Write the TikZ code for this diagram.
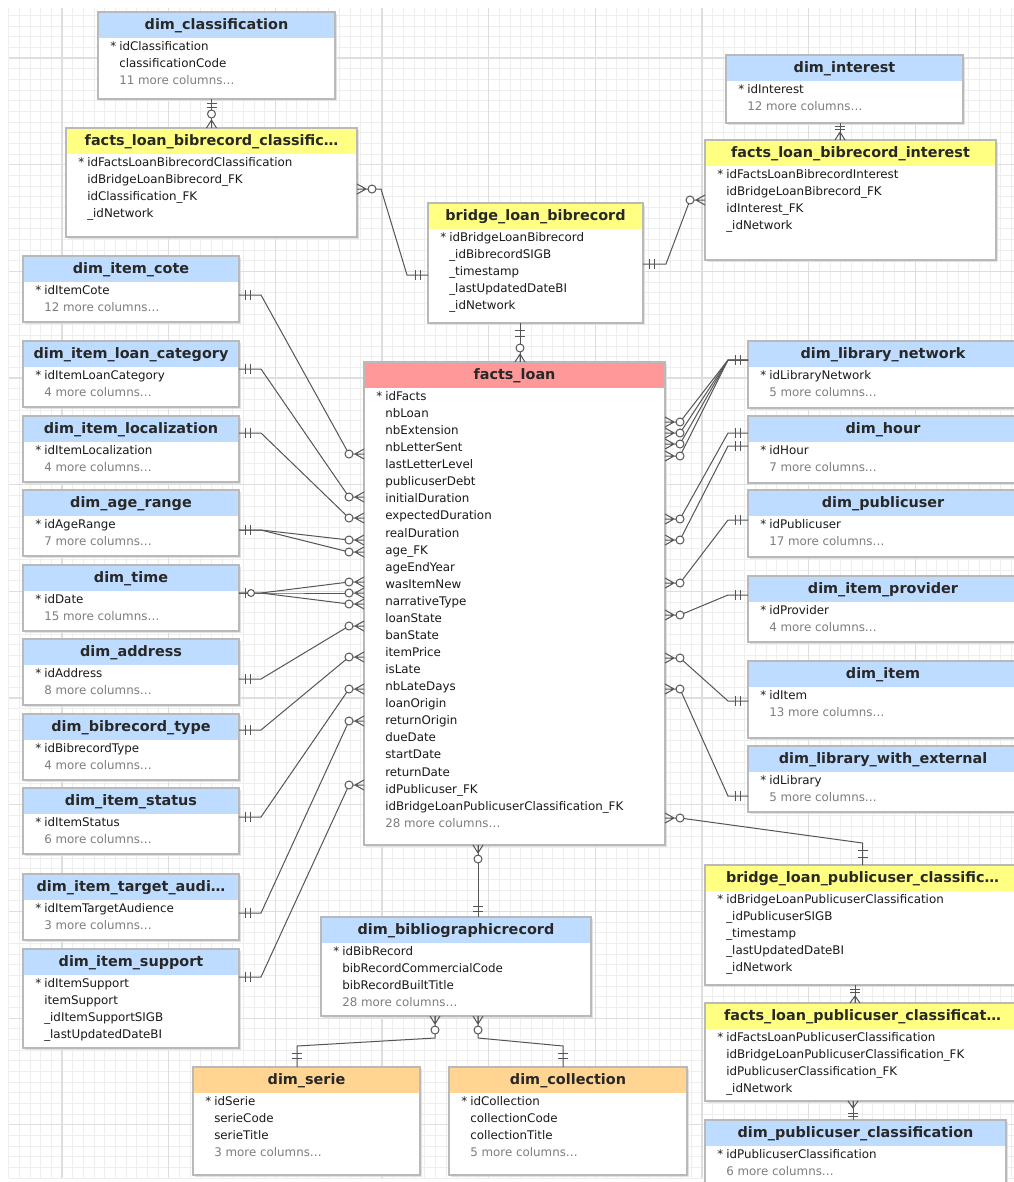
\documentclass[tikz,border=0pt]{standalone}
\usepackage{fontspec}
\setmainfont{DejaVu Sans}
\usetikzlibrary{calc}
\definecolor{hblue}{RGB}{190,220,255}
\definecolor{hyellow}{RGB}{255,255,130}
\definecolor{hpink}{RGB}{255,153,153}
\definecolor{horange}{RGB}{255,213,145}
\definecolor{gmin}{RGB}{238,238,238}
\definecolor{gmaj}{RGB}{222,222,222}
\definecolor{bord}{RGB}{185,185,185}
\definecolor{shadowc}{RGB}{225,225,225}
\definecolor{lnk}{RGB}{85,85,85}
\definecolor{txt}{RGB}{25,25,25}
\definecolor{more}{RGB}{125,125,125}
\definecolor{htxt}{RGB}{40,40,40}
\newcommand\mc[1]{\textcolor{more}{#1}}
\tikzset{
 tbox/.style={fill=white, inner sep=0pt, outer sep=0pt, anchor=north west, rectangle},
 htext/.style={anchor=base, inner sep=0pt, font=\fontsize{10.8pt}{12pt}\selectfont\bfseries, text=htxt},
 rtext/.style={anchor=base west, inner sep=0pt, font=\fontsize{8.9pt}{10pt}\selectfont, text=txt},
 conn/.style={draw=lnk, line width=0.75pt},
}
\newcommand\tbl[8]{%
 \fill[shadowc] (#2+2,#3+2) rectangle (#2+#4+2,#3+#5+2);
 \node[tbox, minimum width=#4*0.75pt, minimum height=#5*0.75pt] (#1) at (#2,#3) {};
 \fill[#6] (#1.north west) rectangle ($(#1.north east)+(0,26)$);
 \draw[bord, line width=0.8pt] (#1.north west) rectangle (#1.south east);
 \node[htext] (#1-title) at ($(#1.north)+(0,17.5)$) {#7};
 \node[rtext] (#1-key) at ($(#1.north west)+(12,38.5)$) {*};
 \foreach[count=\ri] \rowtxt in {#8}{%
   \node[rtext] (#1-r\ri) at ($(#1.north west)+(21,{38.5+(\ri-1)*17.07})$) {\rowtxt};}%
}
% one-end bars
\newcommand\barsH[3]{\draw[conn] ($(#1)+(#2,-5)$) -- ($(#1)+(#2,5)$) ($(#1)+(#3,-5)$) -- ($(#1)+(#3,5)$);}
\newcommand\barsV[3]{\draw[conn] ($(#1)+(-5,#2)$) -- ($(#1)+(5,#2)$) ($(#1)+(-5,#3)$) -- ($(#1)+(5,#3)$);}
% many-ends (crow's foot + circle)
\newcommand\crowW[1]{%
 \draw[conn] ($(#1)+(-11,0)$) -- (#1) ($(#1)+(-9,0)$) -- ($(#1)+(0,-5)$) ($(#1)+(-9,0)$) -- ($(#1)+(0,5)$);
 \draw[conn,fill=white] ($(#1)+(-15,0)$) circle[radius=3pt];}
\newcommand\crowE[1]{%
 \draw[conn] ($(#1)+(11,0)$) -- (#1) ($(#1)+(9,0)$) -- ($(#1)+(0,-5)$) ($(#1)+(9,0)$) -- ($(#1)+(0,5)$);
 \draw[conn,fill=white] ($(#1)+(15,0)$) circle[radius=3pt];}
\newcommand\crowNx[2]{%
 \draw[conn] ($(#1)+(0,-#2)$) -- ($(#1)+(-5,0)$) ($(#1)+(0,-#2)$) -- ($(#1)+(5,0)$) ($(#1)+(0,-#2)$) -- (#1);}
\newcommand\crowN[2]{\crowNx{#1}{#2}%
 \draw[conn,fill=white] ($(#1)+(0,-#2-6)$) circle[radius=3pt];}
\newcommand\crowSx[2]{%
 \draw[conn] ($(#1)+(0,#2)$) -- ($(#1)+(-5,0)$) ($(#1)+(0,#2)$) -- ($(#1)+(5,0)$) ($(#1)+(0,#2)$) -- (#1);}
\newcommand\crowS[2]{\crowSx{#1}{#2}%
 \draw[conn,fill=white] ($(#1)+(0,#2+6)$) circle[radius=3pt];}
% left dims to facts_loan
\newcommand\lconn[3]{%
 \draw[conn] (#1.east |- 0,#2) -- ++(22,0) -- ($(fl.west |- 0,#3)+(-15,0)$);
 \barsH{#1.east |- 0,#2}{6}{11}\crowW{fl.west |- 0,#3}}
\newcommand\zconn[3]{%
 \draw[conn] (#1.east |- 0,#2) -- ++(22,0) -- ($(fl.west |- 0,#3)+(-15,0)$);
 \crowW{fl.west |- 0,#3}}
% right dims to facts_loan
\newcommand\rconn[3]{%
 \draw[conn] (#1.west |- 0,#2) -- ++(-20,0) -- ($(fl.east |- 0,#3)+(15,0)$);
 \barsH{#1.west |- 0,#2}{-13}{-8}\crowE{fl.east |- 0,#3}}
\begin{document}
\begin{tikzpicture}[x=0.75pt,y=-0.75pt]
\useasboundingbox (0,0) rectangle (1014,1182);
\fill[white] (0,0) rectangle (1014,1182);
% grid
\foreach \k in {0,...,94} \draw[gmin,line width=0.6pt] ({8.67+10.667*\k},8) -- ({8.67+10.667*\k},1178);
\foreach \k in {0,...,109} \draw[gmin,line width=0.6pt] (8.67,{15.33+10.667*\k}) -- (1014,{15.33+10.667*\k});
\foreach \k in {0,...,8} \draw[gmaj,line width=0.8pt] ({62+106.67*\k},8) -- ({62+106.67*\k},1178);
\foreach \k in {0,...,10} \draw[gmaj,line width=0.8pt] (8.67,{58+106.67*\k}) -- (1014,{58+106.67*\k});

% tables
\tbl{dc}{98}{12}{237}{87}{hblue}{dim\_classification}{idClassification, classificationCode, \mc{11 more columns…}}
\tbl{flbc}{66}{128}{291}{109}{hyellow}{facts\_loan\_bibrecord\_classific…}{idFactsLoanBibrecordClassification, idBridgeLoanBibrecord\_FK, idClassification\_FK, \_idNetwork}
\tbl{di}{726}{55}{237}{68}{hblue}{dim\_interest}{idInterest, \mc{12 more columns…}}
\tbl{flbi}{705}{140}{291}{120}{hyellow}{facts\_loan\_bibrecord\_interest}{idFactsLoanBibrecordInterest, idBridgeLoanBibrecord\_FK, idInterest\_FK, \_idNetwork}
\tbl{bb}{428}{203}{215}{120}{hyellow}{bridge\_loan\_bibrecord}{idBridgeLoanBibrecord, \_idBibrecordSIGB, \_timestamp, \_lastUpdatedDateBI, \_idNetwork}

\tbl{cote}{23}{256}{216}{66}{hblue}{dim\_item\_cote}{idItemCote, \mc{12 more columns…}}
\tbl{lcat}{23}{341}{216}{66}{hblue}{dim\_item\_loan\_category}{idItemLoanCategory, \mc{4 more columns…}}
\tbl{loc}{23}{416}{216}{66}{hblue}{dim\_item\_localization}{idItemLocalization, \mc{4 more columns…}}
\tbl{age}{23}{490}{216}{66}{hblue}{dim\_age\_range}{idAgeRange, \mc{7 more columns…}}
\tbl{time}{23}{565}{216}{66}{hblue}{dim\_time}{idDate, \mc{15 more columns…}}
\tbl{addr}{23}{639}{216}{66}{hblue}{dim\_address}{idAddress, \mc{8 more columns…}}
\tbl{btype}{23}{714}{216}{66}{hblue}{dim\_bibrecord\_type}{idBibrecordType, \mc{4 more columns…}}
\tbl{stat}{23}{788}{216}{66}{hblue}{dim\_item\_status}{idItemStatus, \mc{6 more columns…}}
\tbl{targ}{23}{874}{216}{66}{hblue}{dim\_item\_target\_audi…}{idItemTargetAudience, \mc{3 more columns…}}
\tbl{supp}{23}{949}{216}{99}{hblue}{dim\_item\_support}{idItemSupport, itemSupport, \_idItemSupportSIGB, \_lastUpdatedDateBI}

\tbl{fl}{364}{362}{301}{483}{hpink}{facts\_loan}{idFacts, nbLoan, nbExtension, nbLetterSent, lastLetterLevel, publicuserDebt, initialDuration, expectedDuration, realDuration, age\_FK, ageEndYear, wasItemNew, narrativeType, loanState, banState, itemPrice, isLate, nbLateDays, loanOrigin, returnOrigin, dueDate, startDate, returnDate, idPublicuser\_FK, idBridgeLoanPublicuserClassification\_FK, \mc{28 more columns…}}

\tbl{lnet}{748}{341}{270}{67}{hblue}{dim\_library\_network}{idLibraryNetwork, \mc{5 more columns…}}
\tbl{hour}{748}{416}{270}{67}{hblue}{dim\_hour}{idHour, \mc{7 more columns…}}
\tbl{pu}{748}{490}{270}{67}{hblue}{dim\_publicuser}{idPublicuser, \mc{17 more columns…}}
\tbl{prov}{748}{576}{270}{66}{hblue}{dim\_item\_provider}{idProvider, \mc{4 more columns…}}
\tbl{item}{748}{661}{270}{77}{hblue}{dim\_item}{idItem, \mc{13 more columns…}}
\tbl{lext}{748}{746}{270}{66}{hblue}{dim\_library\_with\_external}{idLibrary, \mc{5 more columns…}}

\tbl{bp}{705}{865}{315}{120}{hyellow}{bridge\_loan\_publicuser\_classific…}{idBridgeLoanPublicuserClassification, \_idPublicuserSIGB, \_timestamp, \_lastUpdatedDateBI, \_idNetwork}
\tbl{flpc}{705}{1003}{315}{98}{hyellow}{facts\_loan\_publicuser\_classificat…}{idFactsLoanPublicuserClassification, idBridgeLoanPublicuserClassification\_FK, idPublicuserClassification\_FK, \_idNetwork}
\tbl{dpc}{705}{1120}{301}{75}{hblue}{dim\_publicuser\_classification}{idPublicuserClassification, \mc{6 more columns…}}

\tbl{dbib}{321}{917}{270}{99}{hblue}{dim\_bibliographicrecord}{idBibRecord, bibRecordCommercialCode, bibRecordBuiltTitle, \mc{28 more columns…}}
\tbl{serie}{193}{1067}{227}{108}{horange}{dim\_serie}{idSerie, serieCode, serieTitle, \mc{3 more columns…}}
\tbl{coll}{449}{1067}{238}{108}{horange}{dim\_collection}{idCollection, collectionCode, collectionTitle, \mc{5 more columns…}}

% connectors: left dims -> facts_loan
\lconn{cote}{295}{454}
\lconn{lcat}{369}{497}
\lconn{loc}{433}{518}
\lconn{age}{530}{540}
\lconn{age}{530}{552}
\zconn{time}{593}{582}
\zconn{time}{593}{593}
\zconn{time}{593}{604}
\draw[conn] ($(time.east |- 0,593)+(6,-5)$) -- ($(time.east |- 0,593)+(6,5)$);
\draw[conn,fill=white] ($(time.east |- 0,593)+(12,0)$) circle[radius=2.6pt];
\lconn{addr}{679}{626}
\lconn{btype}{730}{657}
\lconn{stat}{817}{689}
\lconn{targ}{913}{721}
\lconn{supp}{977}{785}

% right dims -> facts_loan
\rconn{lnet}{360}{422}
\rconn{lnet}{360}{433}
\rconn{lnet}{360}{444}
\rconn{lnet}{360}{456}
\rconn{hour}{433}{519}
\rconn{hour}{446}{540}
\rconn{pu}{520}{583}
\rconn{prov}{595}{615}
\rconn{item}{701}{658}
\rconn{lext}{796}{689}

% facts_loan -> bridge_loan_publicuser_classification
\draw[conn] ($(fl.east |- 0,818)+(15,0)$) -- ($(bp.north)+(0,-22)$) -- (bp.north);
\crowE{fl.east |- 0,818}
\barsV{bp.north}{-15}{-8}

% bridge_loan_bibrecord -> facts_loan
\draw[conn] (bb.south -| 520,0) -- (fl.north -| 520,0);
\barsV{bb.south -| 520,0}{7}{13}
\crowN{fl.north -| 520,0}{8}

% facts_loan_bibrecord_classification <-> bridge_loan_bibrecord
\draw[conn] ($(flbc.east |- 0,189)+(15,0)$) -- ++(9,0) -- ($(bb.west |- 0,275)+(-21,0)$) -- (bb.west |- 0,275);
\crowE{flbc.east |- 0,189}
\barsH{bb.west |- 0,275}{-13}{-8}

% bridge_loan_bibrecord <-> facts_loan_bibrecord_interest
\draw[conn] (bb.east |- 0,264) -- ++(23,0) -- ($(flbi.west |- 0,200)+(-15,0)$);
\barsH{bb.east |- 0,264}{6}{11}
\crowW{flbi.west |- 0,200}

% dim_classification -> facts_loan_bibrecord_classification
\draw[conn] (dc.south -| flbc.north) -- (flbc.north);
\barsV{dc.south -| flbc.north}{4}{8}
\crowN{flbc.north}{8}

% dim_interest -> facts_loan_bibrecord_interest
\draw[conn] (di.south -| 840,0) -- (flbi.north -| 840,0);
\barsV{di.south -| 840,0}{3}{6}
\crowNx{flbi.north -| 840,0}{8}

% facts_loan -> dim_bibliographicrecord
\draw[conn] (fl.south -| 478,0) -- (dbib.north -| 478,0);
\crowS{fl.south -| 478,0}{8}
\barsV{dbib.north -| 478,0}{-11}{-6}

% dim_bibliographicrecord -> dim_serie / dim_collection
\draw[conn] (dbib.south -| 435,0) -- ++(0,22) -- ($(serie.north -| 297,0)+(0,-21)$) -- (serie.north -| 297,0);
\crowS{dbib.south -| 435,0}{8}
\barsV{serie.north -| 297,0}{-14}{-9}
\draw[conn] (dbib.south -| 478,0) -- ++(0,22) -- ($(coll.north -| 563,0)+(0,-21)$) -- (coll.north -| 563,0);
\crowS{dbib.south -| 478,0}{8}
\barsV{coll.north -| 563,0}{-14}{-9}

% bridge_loan_publicuser -> facts_loan_publicuser -> dim_publicuser_classification
\draw[conn] (bp.south -| 855,0) -- (flpc.north -| 855,0);
\barsV{bp.south -| 855,0}{4}{7}
\crowNx{flpc.north -| 855,0}{7}
\draw[conn] (flpc.south -| 853,0) -- (dpc.north -| 853,0);
\crowSx{flpc.south -| 853,0}{7}
\barsV{dpc.north -| 853,0}{-7}{-4}
\end{tikzpicture}
\end{document}
